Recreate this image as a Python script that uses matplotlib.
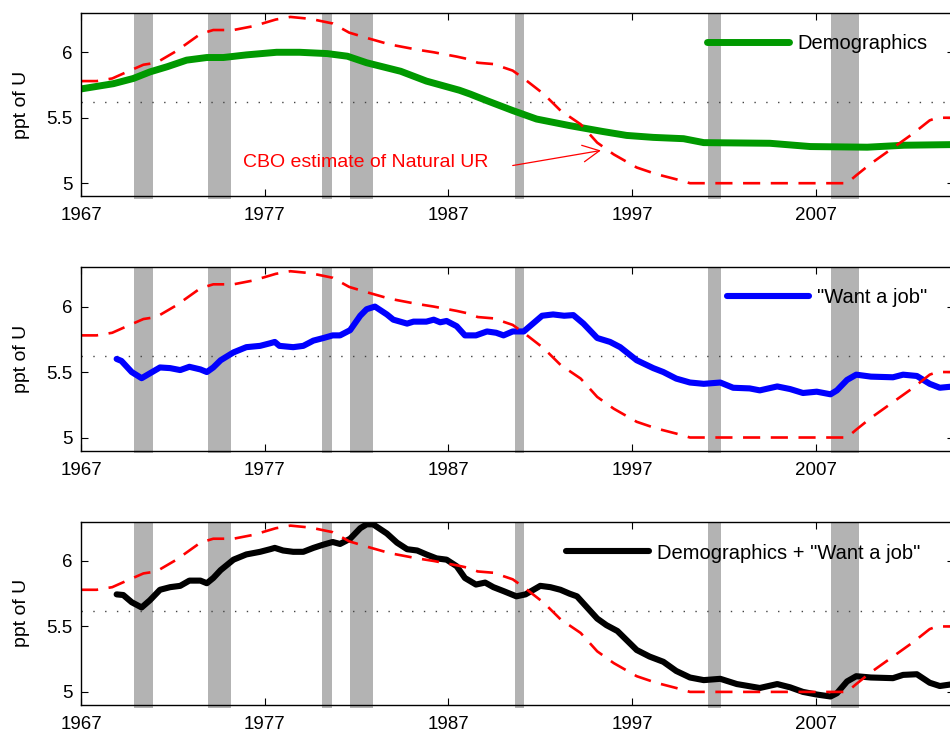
import matplotlib
matplotlib.use("Agg")
import matplotlib.pyplot as plt

plt.rcParams['font.family'] = ['Liberation Sans', 'DejaVu Sans']

# ---- data ----
rec_start = [1969.9, 1973.9, 1980.1, 1981.65, 1990.6, 2001.15, 2007.85]
rec_end = [1970.9, 1975.15, 1980.65, 1982.9, 1991.1, 2001.85, 2009.35]

ref_level = 5.62

cbo_year = [1967.0, 1967.85, 1968.7, 1969.5, 1970.4, 1971.1, 1972.2, 1973.5, 1974.2, 1975.3,
            1976.4, 1977.6, 1978.4, 1979.5, 1980.7, 1981.6, 1982.55, 1983.8, 1985.3, 1986.2,
            1987.45, 1988.0, 1988.6, 1989.45, 1990.5, 1991.1, 1992.2, 1993.1, 1994.2, 1995.1,
            1996.0, 1997.25, 1998.3, 1999.4, 2000.15, 2008.7, 2009.2, 2010.0, 2011.0, 2012.3,
            2013.2, 2013.6, 2014.5]
cbo_val = [5.78, 5.78, 5.80, 5.85, 5.905, 5.92, 6.01, 6.14, 6.17, 6.17,
           6.20, 6.25, 6.27, 6.255, 6.22, 6.15, 6.11, 6.06, 6.02, 6.00,
           5.967, 5.95, 5.92, 5.91, 5.86, 5.80, 5.68, 5.555, 5.45, 5.31,
           5.22, 5.12, 5.07, 5.03, 5.00, 5.00, 5.06, 5.15, 5.25, 5.38,
           5.48, 5.50, 5.50]

demo_year = [1967.0, 1968.76, 1969.85, 1970.75, 1971.7, 1972.75, 1973.85, 1974.75, 1976.0, 1977.65,
             1978.9, 1980.4, 1981.5, 1982.55, 1984.4, 1985.8, 1987.6, 1988.2, 1989.1, 1990.5,
             1991.8, 1993.6, 1995.4, 1996.7, 1998.15, 1999.8, 2000.9, 2004.5, 2006.7, 2009.8,
             2011.8, 2014.5]
demo_val = [5.72, 5.76, 5.80, 5.85, 5.89, 5.94, 5.96, 5.96, 5.98, 6.00,
            6.00, 5.99, 5.97, 5.92, 5.855, 5.78, 5.71, 5.68, 5.63, 5.555,
            5.49, 5.44, 5.395, 5.365, 5.35, 5.34, 5.31, 5.305, 5.28, 5.275,
            5.29, 5.295]

want_year = [1968.94, 1969.2, 1969.76, 1970.3, 1970.75, 1971.3, 1971.85, 1972.4, 1972.9, 1973.5,
             1973.85, 1974.2, 1974.6, 1975.3, 1976.0, 1976.75, 1977.3, 1977.55, 1977.8, 1978.55,
             1979.1, 1979.65, 1980.2, 1980.7, 1981.1, 1981.65, 1982.2, 1982.55, 1983.0, 1983.65,
             1984.0, 1984.75, 1985.1, 1985.8, 1986.2, 1986.55, 1986.9, 1987.45, 1987.9, 1988.5,
             1989.1, 1989.6, 1990.0, 1990.5, 1991.1, 1991.6, 1992.1, 1992.7, 1993.3, 1993.8,
             1994.35, 1995.1, 1995.8, 1996.35, 1997.25, 1998.15, 1998.7, 1999.4, 2000.15, 2000.9,
             2001.8, 2002.5, 2003.4, 2003.95, 2004.9, 2005.6, 2006.3, 2007.05, 2007.8, 2008.15,
             2008.7, 2009.2, 2010.0, 2011.2, 2011.75, 2012.5, 2013.2, 2013.75, 2014.5]
want_val = [5.60, 5.585, 5.50, 5.453, 5.49, 5.535, 5.53, 5.515, 5.54, 5.52,
            5.50, 5.535, 5.59, 5.65, 5.69, 5.70, 5.72, 5.73, 5.70, 5.69,
            5.70, 5.74, 5.76, 5.78, 5.78, 5.82, 5.93, 5.98, 6.00, 5.94,
            5.90, 5.87, 5.885, 5.885, 5.90, 5.88, 5.89, 5.85, 5.78, 5.78,
            5.81, 5.80, 5.78, 5.81, 5.81, 5.87, 5.93, 5.94, 5.93, 5.935,
            5.87, 5.76, 5.73, 5.69, 5.59, 5.53, 5.50, 5.45, 5.42, 5.41,
            5.42, 5.38, 5.375, 5.36, 5.39, 5.37, 5.34, 5.35, 5.33, 5.36,
            5.44, 5.48, 5.465, 5.46, 5.48, 5.47, 5.41, 5.38, 5.39]

both_year = [1968.94, 1969.3, 1969.76, 1970.3, 1970.75, 1971.3, 1971.85, 1972.4, 1972.9, 1973.5,
             1973.85, 1974.2, 1974.6, 1975.3, 1976.0, 1976.75, 1977.3, 1977.55, 1978.0, 1978.55,
             1979.1, 1979.65, 1980.2, 1980.7, 1981.1, 1981.65, 1982.2, 1982.55, 1982.9, 1983.65,
             1984.2, 1984.75, 1985.3, 1985.8, 1986.35, 1986.9, 1987.45, 1987.9, 1988.5, 1989.0,
             1989.45, 1990.0, 1990.7, 1991.2, 1992.0, 1992.55, 1993.1, 1993.6, 1994.0, 1995.1,
             1995.6, 1996.2, 1997.25, 1997.95, 1998.7, 1999.4, 2000.15, 2000.9, 2001.8, 2002.7,
             2003.95, 2004.9, 2005.6, 2006.3, 2007.05, 2007.8, 2008.15, 2008.7, 2009.2, 2010.0,
             2011.2, 2011.75, 2012.5, 2013.2, 2013.75, 2014.5]
both_val = [5.745, 5.74, 5.685, 5.645, 5.70, 5.78, 5.80, 5.81, 5.85, 5.85,
            5.83, 5.87, 5.93, 6.01, 6.05, 6.07, 6.09, 6.10, 6.08, 6.07,
            6.07, 6.10, 6.125, 6.145, 6.13, 6.17, 6.25, 6.28, 6.28, 6.21,
            6.14, 6.09, 6.08, 6.05, 6.02, 6.01, 5.96, 5.87, 5.82, 5.835,
            5.80, 5.77, 5.73, 5.745, 5.81, 5.80, 5.78, 5.75, 5.73, 5.56,
            5.51, 5.465, 5.32, 5.27, 5.23, 5.16, 5.11, 5.09, 5.10, 5.06,
            5.03, 5.06, 5.035, 5.00, 4.98, 4.965, 4.99, 5.08, 5.12, 5.11,
            5.105, 5.13, 5.135, 5.07, 5.045, 5.06]

x_ticks = [1967, 1977, 1987, 1997, 2007]
y_ticks = [5, 5.5, 6]
y_ticklabels = ['5', '5.5', '6']

panels = [
    (demo_year, demo_val, '#009900', 5.0, 'Demographics', (0.717, 0.836)),
    (want_year, want_val, '#0000ff', 4.4, '"Want a job"', (0.740, 0.833)),
    (both_year, both_val, '#000000', 4.4, 'Demographics + "Want a job"', (0.556, 0.829)),
]

fig = plt.figure(figsize=(9.5, 7.36), dpi=100)
W = 950.0
H = 736.0
left_px, right_px = 81.0, 953.6
tops = [13.0, 267.3, 521.7]
height_px = 183.3

for i, (xs, ys, col, lw, lab, lpos) in enumerate(panels):
    top = tops[i]
    ax = fig.add_axes([left_px / W, 1 - (top + height_px) / H,
                       (right_px - left_px) / W, height_px / H])
    ax.set_xlim(1967, 2014.5)
    ax.set_ylim(4.9, 6.3)
    for s, e in zip(rec_start, rec_end):
        ax.axvspan(s, e, ymin=-0.014, ymax=1, color='#b3b3b3', lw=0, zorder=1,
                   clip_on=False)
    ax.axhline(ref_level, color='#444444', lw=1.0, linestyle=(0, (1, 7.5)), zorder=2)
    line, = ax.plot(xs, ys, color=col, lw=lw, solid_capstyle='round',
                    solid_joinstyle='round', zorder=3, label=lab)
    ax.plot(cbo_year, cbo_val, color='#ff0000', lw=1.9, linestyle=(0, (6.5, 4)), zorder=4)

    ax.legend(handles=[line], loc='center left', bbox_to_anchor=lpos,
              frameon=False, fontsize=14.5, handlelength=4.1, handletextpad=0.4,
              borderpad=0, borderaxespad=0)

    ax.set_xticks(x_ticks)
    ax.set_yticks(y_ticks)
    ax.set_yticklabels(y_ticklabels)
    ax.tick_params(axis='both', direction='in', length=5, width=0.8,
                   top=True, right=True, labelsize=13.5)
    ax.tick_params(axis='x', pad=8)
    ax.tick_params(axis='y', pad=6)
    for sp in ax.spines.values():
        sp.set_linewidth(1.0)
        sp.set_zorder(6)
    ax.set_ylabel('ppt of U', fontsize=14)
    ax.yaxis.set_label_coords(-0.058, 0.5)

    if i == 0:
        ax.text(1975.82, 5.158, 'CBO estimate of Natural UR', color='#ff0000',
                fontsize=14, ha='left', va='center', zorder=5)
        ax.annotate('', xy=(1995.3, 5.25), xytext=(1990.5, 5.135),
                    arrowprops=dict(arrowstyle='->,head_length=0.6,head_width=0.3',
                                    color='#ff0000', lw=0.9,
                                    mutation_scale=20, shrinkA=0, shrinkB=0),
                    zorder=5)

fig.savefig('out.png', dpi=100)
